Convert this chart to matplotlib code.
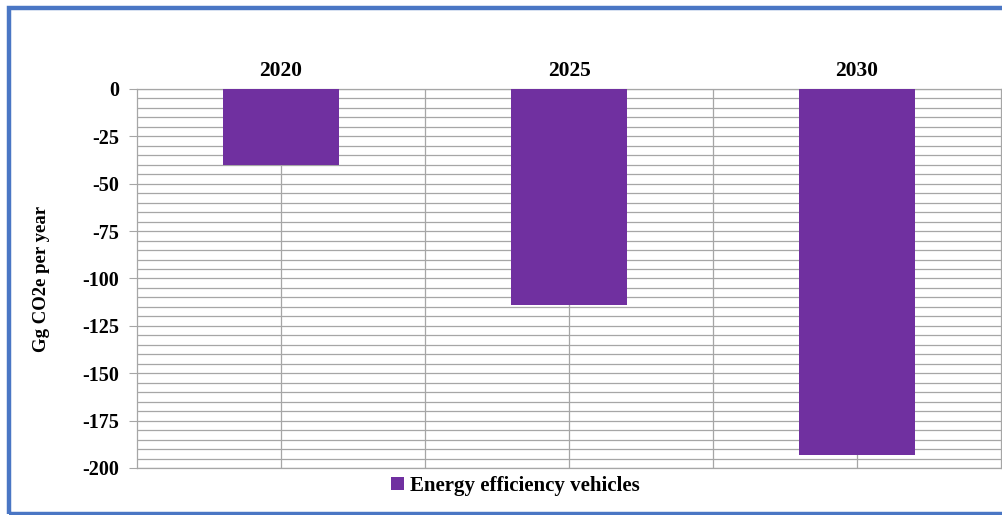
import matplotlib.pyplot as plt
from matplotlib.patches import Rectangle
from matplotlib.ticker import MultipleLocator, FixedLocator
import numpy as np

years = ['2020', '2025', '2030']
savings = [-40, -114, -193]
series_name = 'Energy efficiency vehicles'

purple = '#7030A0'
grid_c = '#a6a6a6'
serif = ['Liberation Serif', 'DejaVu Serif']

plt.rcParams['axes.unicode_minus'] = False

fig = plt.figure(figsize=(10.03, 5.15), dpi=100)
ax = fig.add_axes([0.1366, 0.0913, 0.8614, 0.7359])

x = np.arange(len(years))
ax.bar(x, savings, width=0.40, color=purple, zorder=3, label=series_name)

ax.set_xlim(-0.5, 2.5)
ax.set_ylim(-200, 0)

# y axis: major every 25, minor gridlines every 5
ax.yaxis.set_major_locator(MultipleLocator(25))
ax.yaxis.set_minor_locator(MultipleLocator(5))
ax.grid(which='both', axis='y', color=grid_c, linewidth=0.9, zorder=0)
ax.tick_params(axis='y', which='major', length=6, color=grid_c, pad=7)
ax.tick_params(axis='y', which='minor', length=0)

# category labels sit above the plot; vertical lines at centres and boundaries
ax.xaxis.tick_top()
ax.set_xticks(x)
ax.set_xticklabels(years)
ax.xaxis.set_minor_locator(FixedLocator([0.5, 1.5]))
ax.grid(which='both', axis='x', color=grid_c, linewidth=0.9, zorder=0)
ax.tick_params(axis='x', which='both', length=0, pad=6)

for lab in ax.get_xticklabels():
    lab.set_fontfamily(serif)
    lab.set_fontweight('bold')
    lab.set_fontsize(15.5)
for lab in ax.get_yticklabels():
    lab.set_fontfamily(serif)
    lab.set_fontweight('bold')
    lab.set_fontsize(14.5)

for s in ax.spines.values():
    s.set_color(grid_c)
    s.set_linewidth(0.9)

ax.set_ylabel('Gg CO2e per year', fontfamily=serif, fontweight='bold',
              fontsize=13.5)
ax.yaxis.set_label_coords(-0.101, 0.5)

leg = fig.legend(loc='center', bbox_to_anchor=(0.514, 0.057), frameon=False,
                 handlelength=0.6, handleheight=0.6, handletextpad=0.3,
                 prop={'family': serif, 'weight': 'bold', 'size': 15})

# blue frame around the chart
fig.patches.append(Rectangle((9.5 / 1003, 1.5 / 515), 1.0, 506 / 515,
                             transform=fig.transFigure, fill=False,
                             edgecolor='#4A76C4', linewidth=3.2))

fig.savefig('out.png', dpi=100)
